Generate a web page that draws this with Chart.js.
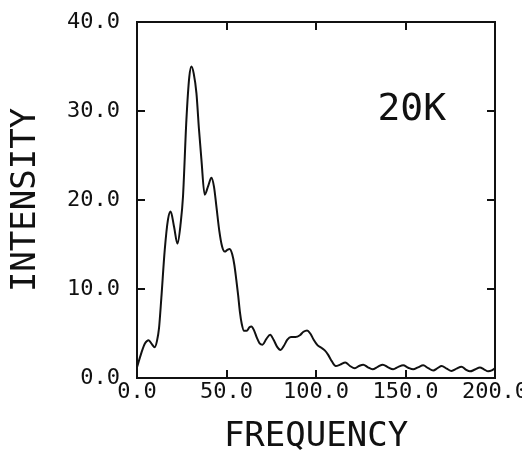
<!DOCTYPE html>
<html>
<head>
<meta charset="utf-8">
<script src="https://cdn.jsdelivr.net/npm/chart.js@4/dist/chart.umd.min.js"></script>
<style>
  html, body { margin: 0; padding: 0; background: #fff; }
  #wrap { width: 522px; height: 450px; }
</style>
</head>
<body>
<div id="wrap"><canvas id="c" width="522" height="450"></canvas></div>
<script>
// Spectrum measured at 20 K
const frequency = [
  0, 2.4, 4.5, 6.5, 8.3, 9.9, 11.2, 12.3, 13.6, 15.5, 17.3, 18.8, 20.7, 22.6, 24.4, 25.7,
  27.6, 29.2, 30.4, 31.7, 33.2, 34.6, 36.0, 37.8, 39.8, 41.6, 43.0, 44.4, 46.0, 47.5, 49.0,
  50.5, 51.8, 53.2, 54.4, 55.5, 56.5, 57.5, 58.5, 59.8, 61.3, 62.8, 63.9, 65.5, 67.0, 68.5,
  70.1, 72.3, 74.4, 76.3, 78.3, 80.2, 82.0, 84.0, 86.0, 88.5, 91.0, 93.0, 95.0, 96.8, 98.7,
  100.8, 103.0, 104.9, 106.8, 108.8, 111.0, 113.5, 116.4, 119.0, 121.7, 124.0, 126.4, 129.0,
  131.6, 134.5, 137.3, 140.3, 143.1, 146.0, 148.7, 151.5, 154.3, 157.0, 159.9, 162.7, 165.5,
  167.9, 170.2, 173.0, 175.7, 178.5, 181.3, 183.7, 186.0, 188.8, 191.6, 194.0, 196.2, 198.2, 200.0
];
const intensity = [
  1.2, 2.8, 3.9, 4.25, 3.8, 3.45, 4.2, 5.6, 9.0, 14.4, 17.8, 18.7, 17.0, 15.1, 17.4, 20.4,
  29.0, 33.8, 35.0, 34.2, 32.0, 28.0, 24.5, 20.6, 21.6, 22.5, 21.5, 19.2, 16.5, 14.8, 14.2,
  14.4, 14.5, 13.9, 12.7, 11.0, 9.3, 7.4, 6.1, 5.3, 5.3, 5.7, 5.8, 5.3, 4.5, 3.9,
  3.75, 4.4, 4.85, 4.3, 3.5, 3.15, 3.6, 4.3, 4.6, 4.6, 4.8, 5.2, 5.35, 5.0, 4.3,
  3.7, 3.4, 3.1, 2.6, 1.9, 1.35, 1.5, 1.75, 1.35, 1.1, 1.35, 1.5, 1.2,
  0.98, 1.25, 1.5, 1.2, 0.98, 1.25, 1.42, 1.15, 0.98, 1.2, 1.42, 1.1, 0.85,
  1.1, 1.35, 1.05, 0.8, 1.05, 1.27, 0.95, 0.75, 0.95, 1.18, 0.95, 0.75, 0.85, 1.1
];
const xTickLabels = ['0.0', '50.0', '100.0', '150.0', '200.0'];
const yTickLabels = ['0.0', '10.0', '20.0', '30.0', '40.0'];
const sampleLabel = '20K';
const xTitle = 'FREQUENCY';
const yTitle = 'INTENSITY';

const MONO = '"DejaVu Sans Mono", "Liberation Mono", monospace';
const INK = '#111';

const points = frequency.map((f, i) => ({ x: f, y: intensity[i] }));

// Frame axis shared settings: inward tick marks, no grid inside the plot
function frameGrid() {
  return {
    drawOnChartArea: false,
    drawTicks: true,
    tickLength: -8,
    color: INK,
    lineWidth: 2
  };
}
const frameBorder = { display: true, color: INK, width: 2 };

// Draws the temperature tag inside the plot at a data position
const tagPlugin = {
  id: 'tag',
  afterDatasetsDraw(chart, args, opts) {
    const { ctx, scales } = chart;
    const px = scales.x.getPixelForValue(opts.at[0]);
    const py = scales.y.getPixelForValue(opts.at[1]);
    ctx.save();
    ctx.fillStyle = INK;
    ctx.font = '38px ' + MONO;
    ctx.textAlign = 'center';
    ctx.textBaseline = 'middle';
    ctx.fillText(opts.text, px, py);
    ctx.restore();
  }
};

new Chart(document.getElementById('c'), {
  type: 'line',
  data: {
    datasets: [{
      data: points,
      borderColor: INK,
      borderWidth: 2,
      pointRadius: 0,
      fill: false,
      cubicInterpolationMode: 'monotone'
    }]
  },
  plugins: [tagPlugin],
  options: {
    responsive: false,
    animation: false,
    events: [],
    layout: { padding: { left: 0, top: 22, right: 27, bottom: 0 } },
    plugins: {
      legend: { display: false },
      tooltip: { enabled: false },
      tag: { text: sampleLabel, at: [153.5, 30.1] }
    },
    scales: {
      x: {
        type: 'linear',
        position: 'bottom',
        min: 0, max: 200,
        ticks: {
          stepSize: 50,
          maxRotation: 0,
          autoSkip: false,
          color: INK,
          padding: 11,
          font: { family: MONO, size: 22, lineHeight: 1 },
          callback: (v, i) => xTickLabels[i]
        },
        grid: frameGrid(),
        border: frameBorder,
        title: {
          display: true,
          text: xTitle,
          color: INK,
          padding: { top: 0, bottom: 0 },
          font: { family: MONO, size: 34, lineHeight: 0.75 }
        },
        afterFit(s) { s.height = 72; s.paddingLeft = 0; s.paddingRight = 0; }
      },
      y: {
        type: 'linear',
        position: 'left',
        min: 0, max: 40,
        ticks: {
          stepSize: 10,
          color: INK,
          padding: 25,
          font: { family: MONO, size: 22, lineHeight: 1 },
          callback: (v, i) => yTickLabels[i]
        },
        grid: frameGrid(),
        border: frameBorder,
        title: {
          display: true,
          text: yTitle,
          color: INK,
          padding: { top: 9, bottom: 0 },
          font: { family: MONO, size: 34, lineHeight: 1 }
        },
        afterFit(s) { s.width = 137; s.paddingTop = 0; s.paddingBottom = 0; }
      },
      x2: {
        type: 'linear',
        position: 'top',
        min: 0, max: 200,
        ticks: { display: false, stepSize: 50 },
        grid: frameGrid(),
        border: frameBorder,
        afterFit(s) { s.height = 0; s.paddingLeft = 0; s.paddingRight = 0; }
      },
      y2: {
        type: 'linear',
        position: 'right',
        min: 0, max: 40,
        ticks: { display: false, stepSize: 10 },
        grid: frameGrid(),
        border: frameBorder,
        afterFit(s) { s.width = 0; s.paddingTop = 0; s.paddingBottom = 0; }
      }
    }
  }
});
</script>
</body>
</html>
